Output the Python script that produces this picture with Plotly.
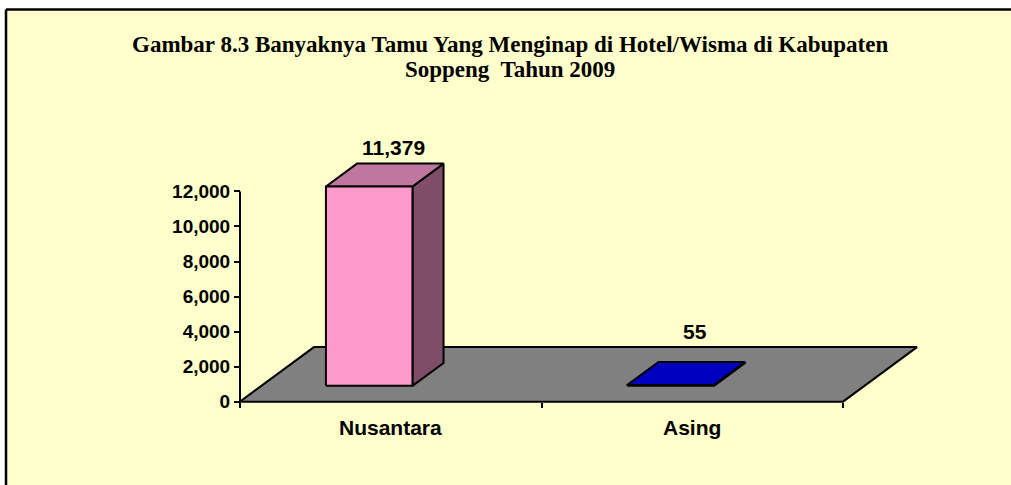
import plotly.graph_objects as go

# ---- data ----
categories = ["Nusantara", "Asing"]
values = [11379, 55]
y_tick_vals = [0, 2000, 4000, 6000, 8000, 10000, 12000]
y_tick_text = ["0", "2,000", "4,000", "6,000", "8,000", "10,000", "12,000"]
title_lines = ["Gambar 8.3 Banyaknya Tamu Yang Menginap di Hotel/Wisma di Kabupaten",
               "Soppeng\u00a0 Tahun 2009"]

# ---- styling / geometry ----
W, H = 1011, 485
front_colors = ["#FF99CC", "#0000FF"]
top_colors = ["#BF77A0", "#0000C0"]
side_colors = ["#7F4D68", "#000080"]
floor_color = "#808080"
bg_color = "#FFFFCC"

SX = 301.5          # px per category unit
VY = 2000 / 35.33   # value units per px
X0_PX, Y0_PX = 240, 405   # pixel of (x=0, y=0)

DX = 74 / SX        # floor depth offset (x units)
DY = 55 * VY        # floor depth offset (value units)
D0, D1 = 0.29, 0.71 # bar depth extents (fraction)
BAR_OFF, BAR_W = 0.285, 0.287

dom_l, dom_r, dom_t, dom_b = 232, 930, 120, 412
x_range = [(dom_l - X0_PX) / SX, (dom_r - X0_PX) / SX]
y_range = [-(dom_b - Y0_PX) * VY, (Y0_PX - dom_t) * VY]

fig = go.Figure()

def poly(xs, ys, fill):
    fig.add_trace(go.Scatter(
        x=xs + [xs[0]], y=ys + [ys[0]], mode="lines", fill="toself",
        fillcolor=fill, line=dict(color="black", width=2),
        hoverinfo="skip", showlegend=False))

n = len(categories)
# floor
poly([0, n, n + DX, DX], [0, 0, DY, DY], floor_color)

bold_sans = dict(family="Liberation Sans, Arial", color="black", weight="bold")
annotations = []
for i, (cat, v) in enumerate(zip(categories, values)):
    fx0 = i + BAR_OFF
    fx1 = fx0 + BAR_W
    fb = D0 * DY
    ddx = (D1 - D0) * DX
    ddy = (D1 - D0) * DY
    top = fb + v
    # side face
    poly([fx1, fx1 + ddx, fx1 + ddx, fx1], [fb, fb + ddy, top + ddy, top], side_colors[i])
    # top face
    poly([fx0, fx1, fx1 + ddx, fx0 + ddx], [top, top, top + ddy, top + ddy], top_colors[i])
    # front face
    poly([fx0, fx1, fx1, fx0], [fb, fb, top, top], front_colors[i])
    # value label
    annotations.append(dict(
        x=i + 0.51, y=max(top + ddy, DY) + 900, xref="x", yref="y",
        xanchor="center", yanchor="middle",
        text=f"{v:,}", showarrow=False, font=dict(size=21, **bold_sans)))
    # category label
    annotations.append(dict(
        x=i + 0.5, y=(H - 431) / H, xref="x", yref="paper",
        xanchor="center", yanchor="middle",
        text=cat, showarrow=False, font=dict(size=21, **bold_sans)))

for line, ypx in zip(title_lines, [45, 70]):
    annotations.append(dict(
        x=510 / W, y=(H - ypx) / H, xref="paper", yref="paper",
        xanchor="center", yanchor="middle",
        text=line, showarrow=False,
        font=dict(family="Liberation Serif, Times New Roman", size=23, color="black", weight="bold")))

bx, by = 6 / W, (H - 9.5) / H
shapes = [
    # white margins above and left of the frame
    dict(type="rect", xref="paper", yref="paper", x0=-0.01, x1=1.01,
         y0=by, y1=1.01, fillcolor="white", line=dict(width=0), layer="below"),
    dict(type="rect", xref="paper", yref="paper", x0=-0.01, x1=bx,
         y0=-0.01, y1=1.01, fillcolor="white", line=dict(width=0), layer="below"),
    dict(type="line", xref="paper", yref="paper", x0=bx, x1=1.01, y0=by, y1=by,
         line=dict(color="black", width=2.5), layer="below"),
    dict(type="line", xref="paper", yref="paper", x0=bx, x1=bx, y0=-0.01, y1=by,
         line=dict(color="black", width=2.5), layer="below"),
    dict(type="line", xref="x", yref="y", x0=0, x1=0, y0=0, y1=max(y_tick_vals),
         line=dict(color="black", width=2), layer="above"),
]

fig.update_layout(
    width=W, height=H, margin=dict(l=0, r=0, t=0, b=0),
    paper_bgcolor=bg_color, plot_bgcolor="rgba(0,0,0,0)",
    showlegend=False, annotations=annotations, shapes=shapes,
    xaxis=dict(domain=[dom_l / W, dom_r / W], range=x_range, anchor="free",
               position=(H - Y0_PX) / H, tickvals=list(range(n + 1)),
               showticklabels=False, ticks="outside", ticklen=5, tickwidth=2,
               tickcolor="black", showline=False, showgrid=False, zeroline=False),
    yaxis=dict(domain=[(H - dom_b) / H, (H - dom_t) / H], range=y_range, anchor="free",
               position=X0_PX / W, tickvals=y_tick_vals, ticktext=y_tick_text,
               ticks="outside", ticklen=6, tickwidth=2, tickcolor="black",
               tickfont=dict(size=19, **bold_sans),
               showline=False, showgrid=False, zeroline=False),
)

fig.write_html(
    "out.html", config={"displayModeBar": False},
    post_script=("document.documentElement.style.overflow='hidden';"
                 "document.body.style.margin='0';document.body.style.overflow='hidden';"
                 "document.body.style.background='#FFFFCC';"))
